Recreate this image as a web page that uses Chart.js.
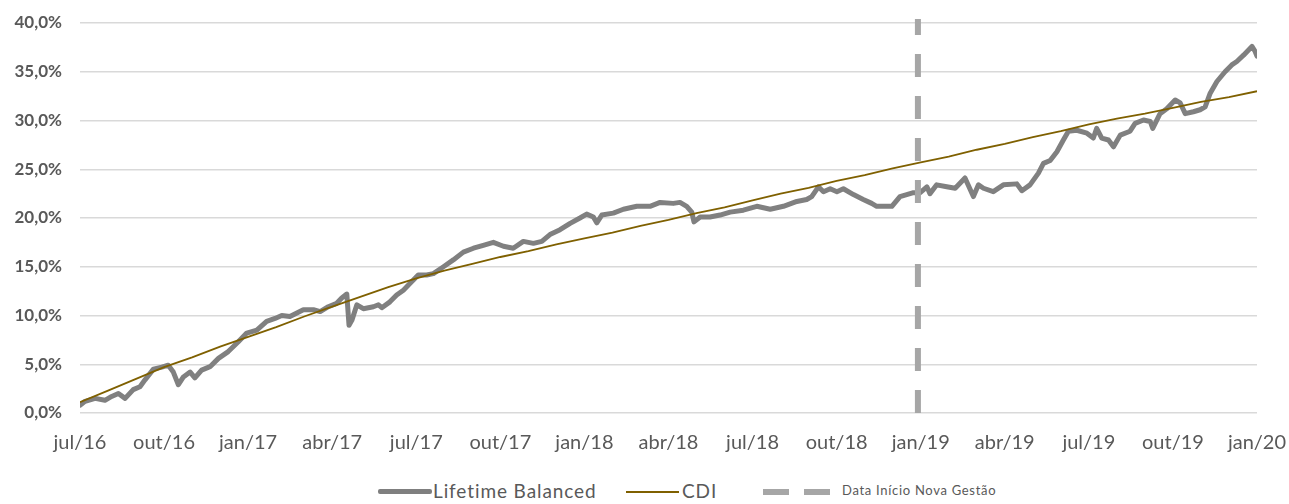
<!DOCTYPE html>
<html>
<head>
<meta charset="utf-8">
<script src="https://cdn.jsdelivr.net/npm/chart.js@4.4.1/dist/chart.umd.min.js"></script>
<style>
  body { margin: 0; background: #fff; }
  #caixa { position: relative; width: 1289px; height: 504px; }
  #legenda { position: absolute; left: 0; top: 478px; width: 1289px; height: 26px; font-family: Lato, sans-serif; color: #595959; }
  .item { position: absolute; top: 0; height: 26px; line-height: 26px; white-space: nowrap; }
  .traco { position: absolute; }
</style>
</head>
<body>
<div id="caixa">
  <canvas id="grafico" width="1289" height="470"></canvas>
  <div id="legenda">
    <div class="traco" style="left:378px;top:11px;width:54px;height:5px;background:#7F7F7F;border-radius:2px"></div>
    <div class="item" style="left:433px;font-size:19px;letter-spacing:0.9px">Lifetime Balanced</div>
    <div class="traco" style="left:626px;top:13px;width:53px;height:2px;background:#7F6000"></div>
    <div class="item" style="left:682px;font-size:19px;letter-spacing:0.9px">CDI</div>
    <div class="traco" style="left:763px;top:11px;width:26px;height:6px;background:#A6A6A6"></div>
    <div class="traco" style="left:804px;top:11px;width:26px;height:6px;background:#A6A6A6"></div>
    <div class="item" style="left:842px;font-size:13px;letter-spacing:0.7px;top:-1px">Data Início Nova Gestão</div>
  </div>
</div>
<script>
// Rótulos do eixo X (trimestrais, a partir de jul/16)
const rotulosX = ['jul/16', 'out/16', 'jan/17', 'abr/17', 'jul/17', 'out/17', 'jan/18', 'abr/18',
                  'jul/18', 'out/18', 'jan/19', 'abr/19', 'jul/19', 'out/19', 'jan/20'];

// Lifetime Balanced: posição em meses desde jul/16 e retorno acumulado (%)
const mesesLifetime = [
  0.00, 0.18, 0.54, 0.89, 1.13, 1.37, 1.61, 1.90, 2.14, 2.32, 2.62, 2.92, 3.15, 3.33, 3.51, 3.69,
  3.93, 4.10, 4.34, 4.64, 4.94, 5.29, 5.65, 5.95, 6.31, 6.66, 6.96, 7.20, 7.49, 7.97, 8.33, 8.57,
  8.86, 9.16, 9.34, 9.52, 9.60, 9.70, 9.88, 10.11, 10.47, 10.65, 10.77, 11.06, 11.30, 11.54, 11.78,
  12.07, 12.37, 12.61, 12.97, 13.32, 13.68, 14.04, 14.39, 14.75, 15.11, 15.46, 15.82, 16.18, 16.48,
  16.77, 17.13, 17.49, 17.84, 18.08, 18.32, 18.44, 18.62, 19.03, 19.39, 19.87, 20.34, 20.70, 21.17,
  21.41, 21.65, 21.83, 21.91, 22.13, 22.48, 22.84, 23.20, 23.67, 24.15, 24.63, 25.10, 25.58, 25.93,
  26.11, 26.35, 26.53, 26.77, 27.01, 27.24, 27.60, 27.95, 28.25, 28.43, 28.97, 29.26, 29.74, 29.98,
  30.22, 30.33, 30.57, 30.93, 31.23, 31.58, 31.88, 32.06, 32.24, 32.59, 32.95, 33.43, 33.61, 33.90,
  34.20, 34.38, 34.62, 34.86, 35.09, 35.27, 35.57, 35.93, 36.16, 36.28, 36.46, 36.70, 36.88, 37.12,
  37.47, 37.65, 37.95, 38.19, 38.28, 38.54, 38.78, 39.08, 39.26, 39.44, 39.73, 39.97, 40.15, 40.33,
  40.57, 40.86, 41.10, 41.28, 41.52, 41.82, 41.93, 42.00
];
const valoresLifetime = [
  0.8, 1.2, 1.5, 1.3, 1.7, 2.0, 1.5, 2.4, 2.7, 3.4, 4.5, 4.7, 4.9, 4.2, 2.9, 3.7,
  4.2, 3.6, 4.4, 4.75, 5.6, 6.3, 7.3, 8.2, 8.5, 9.4, 9.7, 10.0, 9.9, 10.6, 10.6, 10.4,
  10.9, 11.25, 11.8, 12.2, 9.0, 9.5, 11.1, 10.7, 10.9, 11.1, 10.8, 11.4, 12.1, 12.6, 13.3,
  14.15, 14.15, 14.3, 15.0, 15.7, 16.5, 16.9, 17.2, 17.5, 17.1, 16.9, 17.6, 17.4, 17.6,
  18.3, 18.8, 19.45, 20.0, 20.4, 20.1, 19.5, 20.3, 20.5, 20.9, 21.2, 21.2, 21.6, 21.5,
  21.6, 21.2, 20.6, 19.6, 20.1, 20.1, 20.3, 20.6, 20.8, 21.2, 20.9, 21.2, 21.7, 21.9,
  22.2, 23.2, 22.7, 23.0, 22.7, 23.0, 22.4, 21.9, 21.5, 21.2, 21.2, 22.2, 22.6, 22.6,
  23.2, 22.5, 23.4, 23.2, 23.05, 24.1, 22.2, 23.4, 23.05, 22.7, 23.4, 23.5, 22.8, 23.4,
  24.6, 25.6, 25.9, 26.8, 28.0, 28.9, 29.0, 28.7, 28.2, 29.2, 28.2, 28.0, 27.3, 28.5,
  28.9, 29.7, 30.05, 29.9, 29.2, 30.7, 31.2, 32.1, 31.8, 30.7, 30.9, 31.1, 31.4, 32.8,
  34.0, 35.0, 35.7, 36.05, 36.7, 37.6, 37.1, 36.6
];

// CDI acumulado (%), um ponto por mês
const mesesCDI = [0, 1, 2, 3, 4, 5, 6, 7, 8, 9, 10, 11, 12, 13, 14, 15, 16, 17, 18, 19, 20, 21,
                  22, 23, 24, 25, 26, 27, 28, 29, 30, 31, 32, 33, 34, 35, 36, 37, 38, 39, 40, 41, 42];
const valoresCDI = [1.1, 2.3, 3.5, 4.7, 5.7, 6.8, 7.8, 8.8, 9.9, 10.9, 11.9, 12.9, 13.8, 14.6, 15.3,
                    16.0, 16.6, 17.3, 17.9, 18.5, 19.2, 19.8, 20.5, 21.1, 21.8, 22.5, 23.1, 23.8,
                    24.4, 25.1, 25.7, 26.3, 27.0, 27.6, 28.3, 28.9, 29.6, 30.2, 30.7, 31.3, 31.9,
                    32.4, 33.0];

// Linha vertical: início da nova gestão
const mesNovaGestao = 29.9;
const alturaNovaGestao = [0, 40.4];

Chart.defaults.font.family = 'Lato, sans-serif';

const ctx = document.getElementById('grafico').getContext('2d');
new Chart(ctx, {
  type: 'line',
  data: {
    datasets: [
      {
        label: 'Data Início Nova Gestão',
        data: alturaNovaGestao.map(v => ({ x: mesNovaGestao, y: v })),
        borderColor: '#A6A6A6',
        borderWidth: 6,
        borderDash: [23, 19],
        borderCapStyle: 'butt',
        pointRadius: 0,
        clip: false,
        order: 0
      },
      {
        label: 'CDI',
        data: mesesCDI.map((m, i) => ({ x: m, y: valoresCDI[i] })),
        borderColor: '#7F6000',
        borderWidth: 1.8,
        pointRadius: 0,
        tension: 0,
        order: 1
      },
      {
        label: 'Lifetime Balanced',
        data: mesesLifetime.map((m, i) => ({ x: m, y: valoresLifetime[i] })),
        borderColor: '#808080',
        borderWidth: 5,
        borderJoinStyle: 'round',
        borderCapStyle: 'round',
        pointRadius: 0,
        tension: 0,
        order: 2
      }
    ]
  },
  options: {
    responsive: false,
    animation: false,
    layout: { padding: { top: 23, right: 32, left: 0, bottom: 0 } },
    plugins: {
      legend: { display: false },
      tooltip: { enabled: false }
    },
    scales: {
      x: {
        type: 'linear',
        min: 0,
        max: 42,
        grid: { display: false, drawTicks: false },
        border: { display: false },
        afterFit: s => { s.height = 57; s.paddingLeft = 0; s.paddingRight = 0; },
        ticks: {
          stepSize: 3,
          padding: 18,
          maxRotation: 0,
          autoSkip: false,
          color: '#595959',
          font: { size: 20 },
          callback: v => rotulosX[Math.round(v / 3)]
        }
      },
      y: {
        min: 0,
        max: 40,
        grid: { color: '#D9D9D9', lineWidth: 1.5, drawTicks: false },
        border: { display: false },
        afterFit: s => { s.width = 80; s.paddingTop = 0; s.paddingBottom = 0; },
        ticks: {
          stepSize: 5,
          padding: 18,
          color: '#595959',
          font: { size: 17, weight: 'bold' },
          callback: v => v.toFixed(1).replace('.', ',') + '%'
        }
      }
    }
  }
});
</script>
</body>
</html>
